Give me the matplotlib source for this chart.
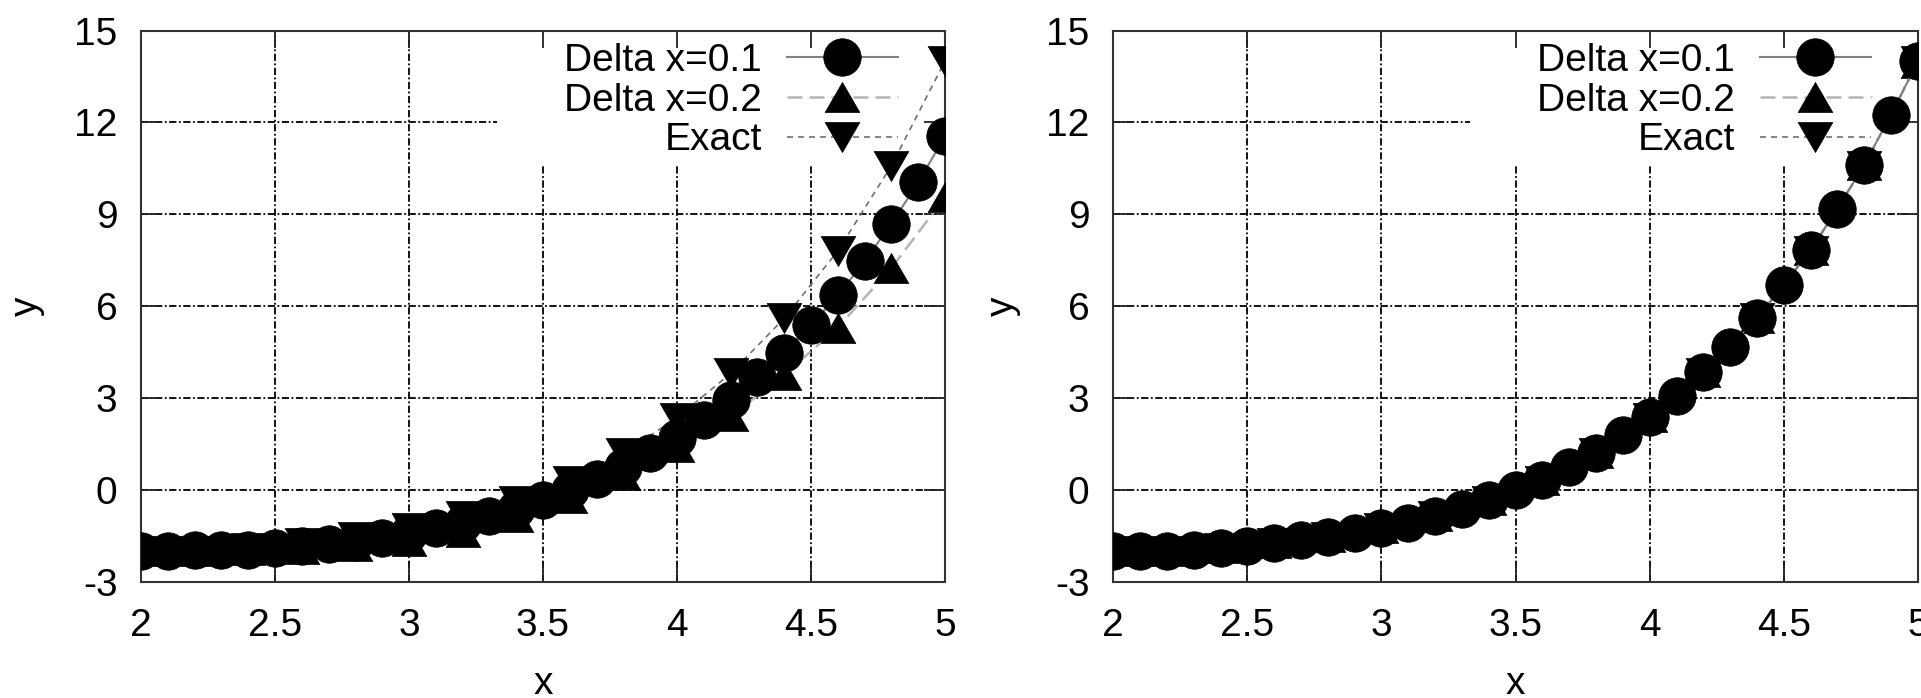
import matplotlib.pyplot as plt
from matplotlib.path import Path
from matplotlib.patches import Rectangle

plt.rcParams['font.family'] = ['Liberation Sans', 'DejaVu Sans']
plt.rcParams['axes.unicode_minus'] = False

# x positions of the two step sizes
x_fine = [2.0, 2.1, 2.2, 2.3, 2.4, 2.5, 2.6, 2.7, 2.8, 2.9, 3.0, 3.1, 3.2, 3.3, 3.4, 3.5,
          3.6, 3.7, 3.8, 3.9, 4.0, 4.1, 4.2, 4.3, 4.4, 4.5, 4.6, 4.7, 4.8, 4.9, 5.0]
x_coarse = [2.0, 2.2, 2.4, 2.6, 2.8, 3.0, 3.2, 3.4, 3.6, 3.8, 4.0, 4.2, 4.4, 4.6, 4.8, 5.0]

# left panel
left_fine = [-2.0, -2.0, -1.98, -1.97, -1.95, -1.91, -1.85, -1.78, -1.69, -1.57, -1.42, -1.25,
             -1.08, -0.87, -0.64, -0.33, -0.02, 0.34, 0.74, 1.2, 1.7, 2.28, 2.95, 3.68, 4.48,
             5.38, 6.35, 7.46, 8.69, 10.04, 11.54]
left_coarse = [-2.0, -2.0, -1.97, -1.92, -1.83, -1.68, -1.38, -0.9, -0.25, 0.5, 1.41, 2.4,
               3.75, 5.3, 7.24, 9.55]

# right panel
right_fine = [-2.0, -2.0, -1.99, -1.96, -1.91, -1.84, -1.75, -1.65, -1.54, -1.42, -1.26, -1.09,
              -0.87, -0.61, -0.33, 0.0, 0.32, 0.76, 1.2, 1.79, 2.39, 3.05, 3.85, 4.68, 5.62,
              6.7, 7.84, 9.17, 10.62, 12.25, 14.0]
right_coarse = [-2.0, -1.99, -1.91, -1.75, -1.54, -1.26, -0.87, -0.33, 0.32, 1.2, 2.38, 3.84,
                5.6, 7.82, 10.6, 13.95]

exact = [-2.0, -1.99, -1.91, -1.75, -1.54, -1.26, -0.87, -0.35, 0.3, 1.2, 2.35, 3.8, 5.6,
         7.8, 10.58, 14.0]

labels = ['Delta x=0.1', 'Delta x=0.2', 'Exact']
xticks = [2, 2.5, 3, 3.5, 4, 4.5, 5]
xtick_labels = ['2', '2.5', '3', '3.5', '4', '4.5', '5']
yticks = [-3, 0, 3, 6, 9, 12, 15]

# gnuplot style filled triangles (wider than tall)
tri_up = Path([(0, 0.433), (-0.5, -0.433), (0.5, -0.433), (0, 0.433)],
              [Path.MOVETO, Path.LINETO, Path.LINETO, Path.CLOSEPOLY])
tri_down = Path([(0, -0.433), (-0.5, 0.433), (0.5, 0.433), (0, -0.433)],
                [Path.MOVETO, Path.LINETO, Path.LINETO, Path.CLOSEPOLY])

grid_style = (0, (4, 1.4, 1, 1.4))
fs = 28


def draw_panel(ax, fine, coarse, ex, ylab_x):
    # circles sit on top of the triangles
    ax.plot(x_fine, fine, color='#808080', lw=1.5, marker='o', ms=27,
            mfc='black', mec='black', mew=0.5, label=labels[0], zorder=3.2)
    ax.plot(x_coarse, coarse, color='#b4b4b4', lw=1.8, ls=(0, (6, 2.8)), marker=tri_up, ms=25,
            mfc='black', mec='black', mew=0.5, label=labels[1], zorder=3)
    ax.plot(x_coarse, ex, color='#707070', lw=1.2, ls=(0, (3.6, 3.0)), marker=tri_down, ms=25,
            mfc='black', mec='black', mew=0.5, label=labels[2], zorder=3.1)

    ax.set_xlim(2, 5)
    ax.set_ylim(-3, 15)
    ax.set_xticks(xticks)
    ax.set_xticklabels(xtick_labels)
    ax.set_yticks(yticks)

    for v in xticks[1:-1]:
        ax.axvline(v, color='black', lw=1.3, ls=grid_style, zorder=0.5)
    for v in yticks[1:-1]:
        ax.axhline(v, color='black', lw=1.3, ls=grid_style, zorder=0.5)
    # the key box hides the grid behind it
    ax.add_patch(Rectangle((0.443, 0.755), 0.557, 0.245, transform=ax.transAxes,
                           facecolor='white', edgecolor='none', zorder=1))

    ax.tick_params(direction='in', top=True, right=True, labelsize=fs, width=1.3, color='#222222')
    ax.tick_params(axis='x', length=12.5, pad=19)
    ax.tick_params(axis='y', length=15, pad=17)
    for s in ax.spines.values():
        s.set_color('#333333')
        s.set_linewidth(1.5)

    ax.set_xlabel('x', fontsize=fs)
    ax.xaxis.set_label_coords(0.5, -0.185)
    ax.xaxis.label.set_va('center')
    ax.set_ylabel('y', fontsize=fs)
    ax.yaxis.set_label_coords(ylab_x, 0.5)
    ax.yaxis.label.set_va('center')

    ax.legend(loc='upper right', bbox_to_anchor=(0.9415, 0.978), markerfirst=False,
              frameon=False, fontsize=fs, handlelength=2.85, handletextpad=0.64,
              labelspacing=0.1, borderpad=0, borderaxespad=0)


fig = plt.figure(figsize=(19.21, 6.98), dpi=100)
ax1 = fig.add_axes([0.0734, 0.1666, 0.4185, 0.7897])
ax2 = fig.add_axes([0.5795, 0.1666, 0.4189, 0.7897])

draw_panel(ax1, left_fine, left_coarse, exact, -0.142)
draw_panel(ax2, right_fine, right_coarse, exact, -0.137)

plt.savefig('out.png', dpi=100)
